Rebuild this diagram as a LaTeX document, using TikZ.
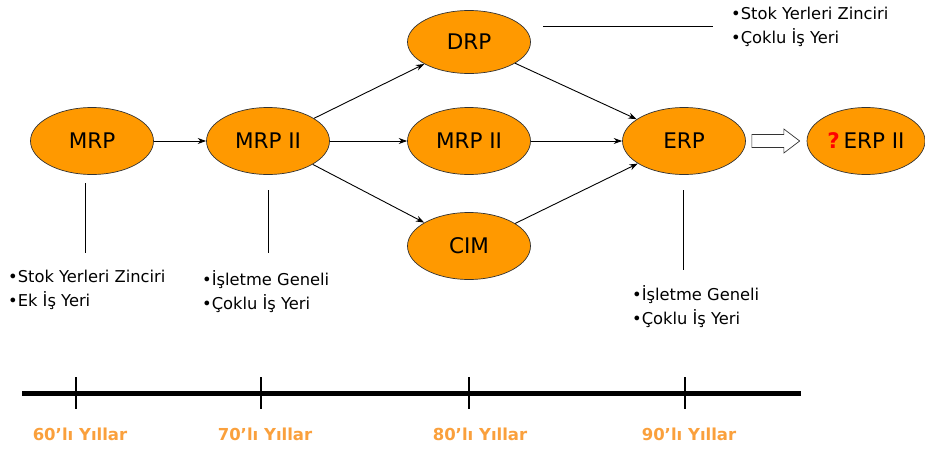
\documentclass[tikz,border=0pt]{standalone}
\usepackage{fontspec}
\setmainfont{DejaVu Sans}
\usetikzlibrary{arrows.meta,calc,shapes.geometric}
\definecolor{ellfill}{RGB}{255,153,0}
\definecolor{yearcol}{RGB}{250,160,60}
\begin{document}
\begin{tikzpicture}[x=1pt,y=-1pt,
  ell/.style={ellipse,draw=black!80,line width=0.7pt,fill=ellfill,minimum width=123pt,minimum height=67pt,inner sep=0pt,font=\fontsize{21.5}{24}\selectfont},
  conn/.style={line width=0.9pt,-{Stealth[length=8.5pt,width=6pt]}},
  plain/.style={line width=0.8pt},
  note/.style={anchor=north west,align=left,inner sep=0pt,font=\fontsize{16.3}{24}\selectfont},
  year/.style={font=\bfseries\fontsize{16.5}{19}\selectfont,text=yearcol},
  tick/.style={line width=2.5pt}]
\useasboundingbox (0,0) rectangle (925,450);
% ellipses
\node[ell] (mrp) at (92,141) {MRP};
\node[ell] (mrp2) at (268,141) {MRP II};
\node[ell,minimum height=63pt] (drp) at (469,42) {DRP};
\node[ell] (mrp2b) at (469,141) {MRP II};
\node[ell] (cim) at (469,246) {CIM};
\node[ell] (erp) at (684,141) {ERP};
\node[ell,minimum width=118pt] (erp2) at (866,141) {{\color{red}\textbf{?}}\,ERP II};
% connectors
\draw[conn] (mrp) -- (mrp2);
\draw[conn] (mrp2) -- (drp);
\draw[conn] (mrp2) -- (mrp2b);
\draw[conn] (mrp2) -- (cim);
\draw[conn] (drp) -- (erp);
\draw[conn] (mrp2b) -- (erp);
\draw[conn] (cim) -- (erp);
% hollow arrow
\draw[line width=0.7pt,draw=black!80,fill=white]
  ($(erp.east)+(6,-6.5)$) -- ($(erp.east)+(38,-6.5)$) -- ($(erp.east)+(38,-12)$)
  -- ($(erp2.west)+(-7,0)$) -- ($(erp.east)+(38,12)$) -- ($(erp.east)+(38,6.5)$)
  -- ($(erp.east)+(6,6.5)$) -- cycle;
% notes
\node[note] (n1) at (8,270) {•Stok Yerleri Zinciri\\•Ek İş Yeri};
\node[note] (n2) at (202,270) {•İşletme Geneli\\•Çoklu İş Yeri};
\node[note] (n3) at (731,7) {•Stok Yerleri Zinciri\\•Çoklu İş Yeri};
\node[note] (n4) at (632,285) {•İşletme Geneli\\•Çoklu İş Yeri};
\coordinate (l1a) at (85,183); \coordinate (l1b) at (85,253);
\coordinate (l2a) at (268,190); \coordinate (l2b) at (268,253);
\coordinate (l3a) at (543,26); \coordinate (l3b) at (713,26);
\coordinate (l4a) at (683,190); \coordinate (l4b) at (683,270);
\draw[plain] (l1a) -- (l1b);
\draw[plain] (l2a) -- (l2b);
\draw[plain] (l3a) -- (l3b);
\draw[plain] (l4a) -- (l4b);
% timeline
\coordinate (ts) at (22,393); \coordinate (te) at (801,393);
\draw[line width=5pt] (ts) -- (te);
\foreach \x/\lab/\lx/\nm in {76/60'lı Yıllar/80/y60,261/70'lı Yıllar/265/y70,469/80'lı Yıllar/480/y80,685/90'lı Yıllar/689/y90}{
  \draw[tick] (\x,377) -- (\x,409);
  \node[year] (\nm) at (\lx,434) {\lab};
}
\end{tikzpicture}
\end{document}
